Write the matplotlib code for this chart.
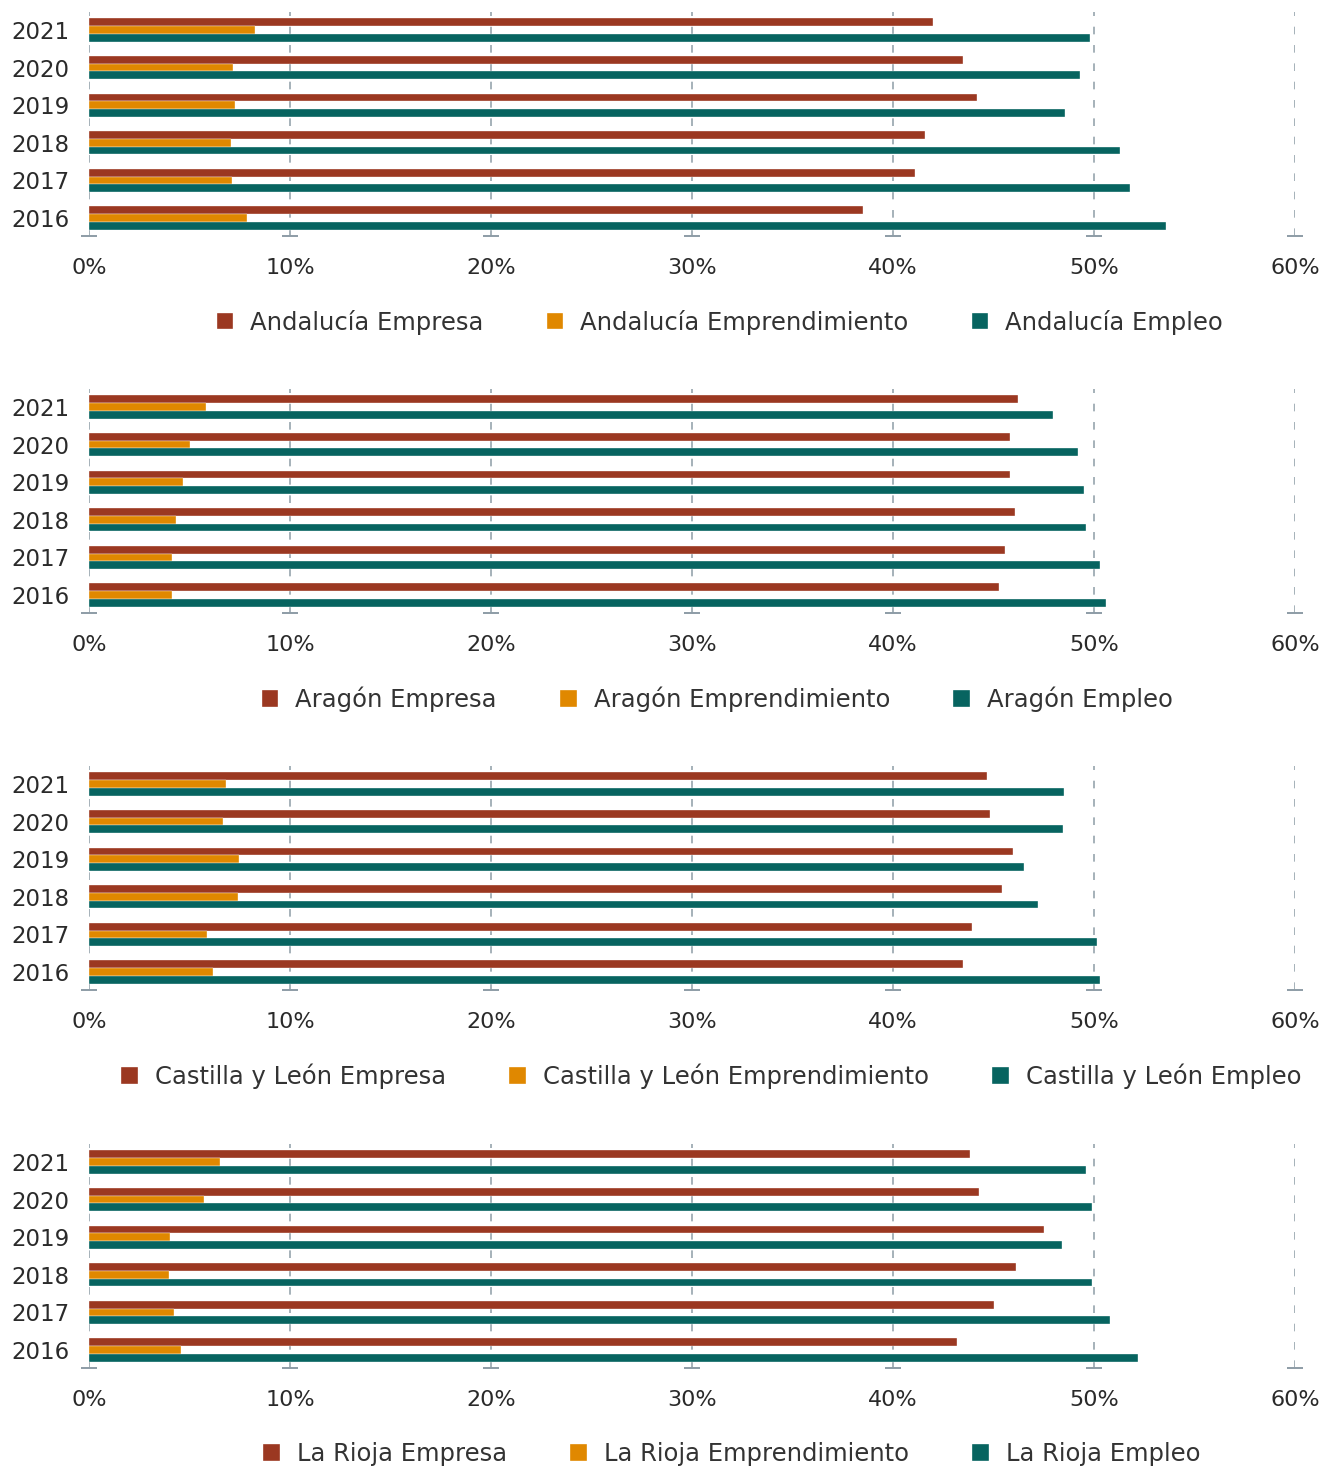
import matplotlib
matplotlib.use('Agg')
import matplotlib.pyplot as plt
import numpy as np

plt.rcParams['font.family'] = ['DejaVu Sans']

years = ['2016', '2017', '2018', '2019', '2020', '2021']
regions = ['Andalucía', 'Aragón', 'Castilla y León', 'La Rioja']
series = ['Empresa', 'Emprendimiento', 'Empleo']

# values in %, ordered 2016 .. 2021
andalucia_empresa = [38.5, 41.1, 41.6, 44.2, 43.5, 42.0]
andalucia_emprend = [7.85, 7.13, 7.08, 7.28, 7.18, 8.24]
andalucia_empleo = [53.6, 51.8, 51.3, 48.55, 49.3, 49.8]

aragon_empresa = [45.25, 45.55, 46.05, 45.8, 45.8, 46.2]
aragon_emprend = [4.15, 4.15, 4.35, 4.66, 5.01, 5.82]
aragon_empleo = [50.6, 50.3, 49.6, 49.5, 49.2, 47.96]

cyl_empresa = [43.5, 43.95, 45.4, 45.97, 44.85, 44.7]
cyl_emprend = [6.17, 5.89, 7.43, 7.46, 6.65, 6.8]
cyl_empleo = [50.3, 50.15, 47.2, 46.5, 48.45, 48.5]

rioja_empresa = [43.2, 45.0, 46.1, 47.5, 44.3, 43.85]
rioja_emprend = [4.56, 4.23, 3.97, 4.05, 5.74, 6.52]
rioja_empleo = [52.2, 50.8, 49.9, 48.4, 49.9, 49.6]

panel_data = [
    (andalucia_empresa, andalucia_emprend, andalucia_empleo),
    (aragon_empresa, aragon_emprend, aragon_empleo),
    (cyl_empresa, cyl_emprend, cyl_empleo),
    (rioja_empresa, rioja_emprend, rioja_empleo),
]

colors = ['#9b3821', '#e08800', '#076460']
grid_color = '#8d9ca6'
text_color = '#2a2a2a'
legend_x = [0.523, 0.521, 0.516, 0.533]

W, H = 1319, 1469
fig = plt.figure(figsize=(W / 100, H / 100), dpi=100)

left_px, right_px = 89, 1295
bottoms_px = [236, 613, 990, 1368]
height_px = 224

y = np.arange(len(years))
bar_h = 0.205
xticks = [0, 10, 20, 30, 40, 50, 60]

for i, region in enumerate(regions):
    ax = fig.add_axes([left_px / W, 1 - bottoms_px[i] / H,
                       (right_px - left_px) / W, height_px / H])
    empresa, emprend, empleo = panel_data[i]
    ax.barh(y + bar_h, empresa, height=bar_h, color=colors[0],
            edgecolor='white', linewidth=0.25, label='%s Empresa' % region,
            zorder=2)
    ax.barh(y, emprend, height=bar_h, color=colors[1],
            edgecolor='white', linewidth=0.25,
            label='%s Emprendimiento' % region, zorder=2)
    ax.barh(y - bar_h, empleo, height=bar_h, color=colors[2],
            edgecolor='white', linewidth=0.25, label='%s Empleo' % region,
            zorder=2)

    ax.set_xlim(0, 60)
    ax.set_ylim(-0.48, 5.48)
    for xt in xticks:
        ax.axvline(xt, color=grid_color, linewidth=1.1, dashes=(5, 7),
                   zorder=1)
    # little horizontal ticks at the base of each gridline
    ax.plot(xticks, [-0.48] * len(xticks), linestyle='none', marker='_',
            markersize=11, markeredgewidth=1.4, color=grid_color,
            clip_on=False, zorder=3)

    for side in ['top', 'right', 'left', 'bottom']:
        ax.spines[side].set_visible(False)

    ax.set_xticks(xticks)
    ax.set_xticklabels(['%d%%' % v for v in xticks])
    ax.set_yticks(y)
    ax.set_yticklabels(years)
    ax.tick_params(axis='x', length=0, pad=16, labelsize=16,
                   labelcolor=text_color)
    ax.tick_params(axis='y', length=0, pad=14, labelsize=16.5,
                   labelcolor=text_color)

    ax.legend(loc='center', bbox_to_anchor=(legend_x[i], -0.384), ncol=3,
              frameon=False, fontsize=17.5, labelcolor='#333333',
              handlelength=0.68, handleheight=0.68, handletextpad=0.7,
              columnspacing=2.6)

fig.savefig('out.png', dpi=100)
